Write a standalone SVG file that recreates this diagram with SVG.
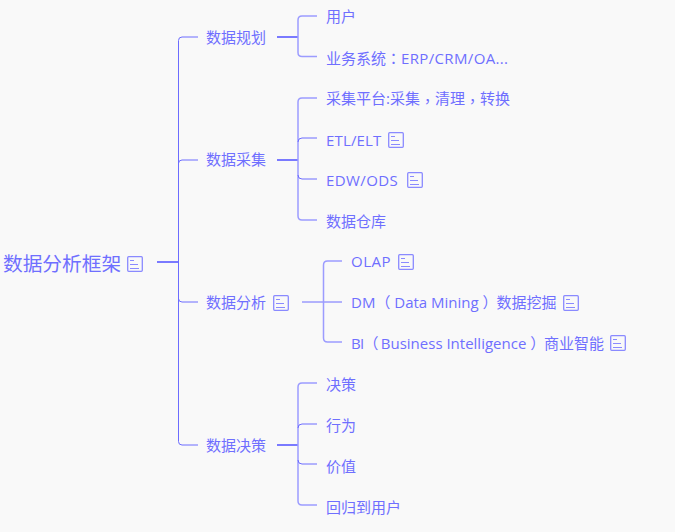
<svg xmlns="http://www.w3.org/2000/svg" width="675" height="532" viewBox="0 0 675 532">
<style>
text{font-family:"Open Sans","Noto Sans CJK SC","Noto Sans",sans-serif;fill:#6f6fff;font-size:15px}
.r{font-size:19.700px}
.p{font-family:"Noto Sans CJK TC",sans-serif}
.c{fill:none;stroke:#6c6cff;stroke-width:1}
.c2{fill:none;stroke:#9c9cff;stroke-width:1.5}
.t{fill:none;stroke:#7a7aff;stroke-width:2}
.i{fill:none;stroke:#8a8aff;stroke-width:1.300}
.l{fill:none;stroke:#8a8aff;stroke-width:1}
</style>
<defs><g id="note"><rect x="0.700" y="0.700" width="14.600" height="14.600" rx="1" class="i"/><path d="M3 4.500H7M3 8.500H11M3 12.500H12" class="l"/></g></defs>
<rect width="675" height="532" fill="#f9f9f9"/>
<g id="connectors">
<path class="t" d="M157 262H178"/>
<path class="c" d="M198 37H182Q178.500 37 178.500 40.500V441.500Q178.500 445 182 445H198"/>
<path class="c" d="M178.500 163.500Q178.500 160 182 160H198M178.500 298.500Q178.500 302 182 302H198"/>
<path class="t" d="M277 37H298M277 160H298M277 445H298"/>
<path class="c2" d="M317 16H302Q298 16 298 20V52.500Q298 56.500 302 56.500H317"/>
<path class="c2" d="M317 98H302Q298 98 298 102V216Q298 220 302 220H317"/>
<path class="c" d="M298 142Q298 138 302 138H317M298 175Q298 179 302 179H317"/>
<path class="c" d="M302 302H342"/>
<path class="c2" d="M342 261H327.500Q323.500 261 323.500 265V338Q323.500 342 327.500 342H342"/>
<path class="c2" d="M317 383H302Q298 383 298 387V501Q298 505 302 505H317"/>
<path class="c" d="M298 428Q298 424 302 424H317M298 460Q298 464 302 464H317"/>
</g>
<g id="root"><text class="r" x="3" y="271">数据分析框架</text><use href="#note" x="127" y="256"/></g>
<g id="n1"><text x="206" y="43">数据规划</text></g>
<g id="n1a"><text x="326" y="22">用户</text></g>
<g id="n1b"><text x="326" y="64">业务系统<tspan class="p">：</tspan><tspan letter-spacing="0.350">ERP/CRM/OA...</tspan></text></g>
<g id="n2"><text x="206" y="165">数据采集</text></g>
<g id="n2a"><text x="326" y="104">采集平台:采集<tspan class="p" dy="3">，</tspan><tspan dy="-3">清理</tspan><tspan class="p" dy="3">，</tspan><tspan dy="-3">转换</tspan></text></g>
<g id="n2b"><text x="326" y="146" letter-spacing="0.150">ETL/ELT</text><use href="#note" x="388" y="132"/></g>
<g id="n2c"><text x="326" y="186" letter-spacing="0.400">EDW/ODS</text><use href="#note" x="407" y="172"/></g>
<g id="n2d"><text x="326" y="227">数据仓库</text></g>
<g id="n3"><text x="206" y="308">数据分析</text><use href="#note" x="273" y="295"/></g>
<g id="n3a"><text x="351" y="267" letter-spacing="0.500">OLAP</text><use href="#note" x="398" y="254"/></g>
<g id="n3b"><text x="351" y="308">DM（ Data Mining ）<tspan x="496.500">数据挖掘</tspan></text><use href="#note" x="563" y="295"/></g>
<g id="n3c"><text x="351" y="349"><tspan letter-spacing="-0.750">BI（ </tspan>Business Intelligence ）<tspan x="544">商业智能</tspan></text><use href="#note" x="610" y="335"/></g>
<g id="n4"><text x="206" y="451">数据决策</text></g>
<g id="n4a"><text x="326" y="390">决策</text></g>
<g id="n4b"><text x="326" y="431">行为</text></g>
<g id="n4c"><text x="326" y="472">价值</text></g>
<g id="n4d"><text x="326" y="513">回归到用户</text></g>
</svg>
